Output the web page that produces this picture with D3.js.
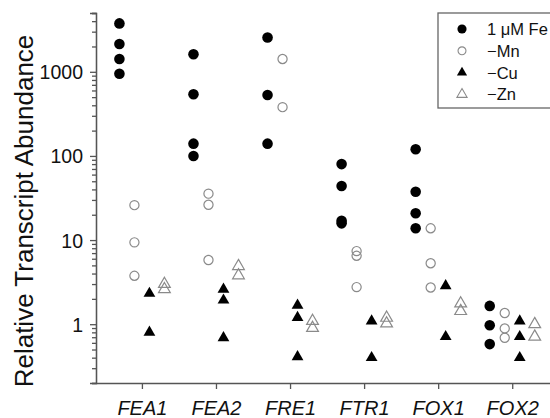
<!DOCTYPE html>
<html>
<head>
<meta charset="utf-8">
<script src="https://cdn.jsdelivr.net/npm/d3@7"></script>
<style>
  body { margin: 0; background: #fff; }
  svg { font-family: Arial, "Liberation Sans", sans-serif; }
</style>
</head>
<body>
<svg id="svg1" width="550" height="418"></svg>
<script>
var genes = ["FEA1", "FEA2", "FRE1", "FTR1", "FOX1", "FOX2"];
var seriesNames = ["1 \u03bcM Fe", "\u2212Mn", "\u2212Cu", "\u2212Zn"];
var majorTicks = [1, 10, 100, 1000];

// one array of replicate values per gene
var feValues = [
  [3760, 2140, 1420, 950],
  [1620, 540, 140, 100],
  [2560, 530, 140],
  [80, 44, 17, 15.8],
  [120, 37.6, 20.8, 13.8],
  [1.65, 0.97, 0.58]
];
var mnValues = [
  [26, 9.4, 3.76],
  [35.6, 26.3, 5.8],
  [1420, 380],
  [7.4, 6.5, 2.76],
  [13.8, 5.3, 2.73],
  [1.36, 0.89, 0.69]
];
var cuValues = [
  [2.32, 0.8],
  [2.6, 1.93, 0.69],
  [1.68, 1.2, 0.41],
  [1.09, 0.4],
  [2.86, 0.71],
  [1.09, 0.71, 0.4]
];
var znValues = [
  [3.0, 2.6],
  [4.9, 3.8],
  [1.09, 0.9],
  [1.19, 1.02],
  [1.76, 1.43],
  [1.0, 0.71]
];

var translate = function(x, y) {
  return "translate(" + String(x) + ", " + String(y) + ")";
};

var svg = d3.select("svg#svg1");

var xScale = d3.scaleLinear()
  .domain([-0.62, 5.51])
  .range([96, 550]);

var yScale = d3.scaleLog()
  .domain([0.2, 5000])
  .range([383, 13]);

var seriesOffset = d3.scalePoint()
  .domain(seriesNames)
  .range([-22.5, 22.5]);

var styles = {};
styles[seriesNames[0]] = { type: d3.symbolCircle, size: 88, fill: "#000", stroke: "none" };
styles[seriesNames[1]] = { type: d3.symbolCircle, size: 66, fill: "none", stroke: "#8a8a8a" };
styles[seriesNames[2]] = { type: d3.symbolTriangle, size: 60, fill: "#000", stroke: "none" };
styles[seriesNames[3]] = { type: d3.symbolTriangle, size: 60, fill: "none", stroke: "#8a8a8a" };

var allSeries = [feValues, mnValues, cuValues, znValues];
var points = [];
allSeries.forEach(function(series, s) {
  series.forEach(function(vals, g) {
    vals.forEach(function(v) {
      points.push({ series: seriesNames[s], gene: g, value: v });
    });
  });
});

/* axes */
var yMinor = d3.axisLeft(yScale)
  .tickValues(yScale.ticks().filter(function(t) { return majorTicks.indexOf(t) < 0; }))
  .tickSize(4)
  .tickFormat("");

var yMajor = d3.axisLeft(yScale)
  .tickValues(majorTicks)
  .tickSize(6)
  .tickPadding(7)
  .tickFormat(d3.format("d"));

var yAxisMinor = svg.append("g").attr("transform", translate(96, 0)).call(yMinor);
var yAxis = svg.append("g").attr("transform", translate(96, 0)).call(yMajor);
yAxis.selectAll("text").attr("font-size", 19.5).attr("fill", "#111").attr("dy", "0.36em");

var xAxisGen = d3.axisBottom(xScale)
  .tickValues(d3.range(genes.length))
  .tickFormat(function(i) { return genes[i]; })
  .tickSize(6)
  .tickPadding(12)
  .tickSizeOuter(0);

var xAxis = svg.append("g").attr("transform", translate(0, 383)).call(xAxisGen);
xAxis.selectAll("text")
  .attr("font-size", 20)
  .attr("font-style", "italic")
  .attr("fill", "#111");

svg.selectAll(".domain, .tick line")
  .attr("stroke", "#555")
  .attr("stroke-width", 1.3);

svg.append("text")
  .attr("transform", translate(33, 211) + " rotate(-90)")
  .attr("text-anchor", "middle")
  .attr("font-size", 26)
  .attr("fill", "#111")
  .text("Relative Transcript Abundance");

/* points */
var symbol = d3.symbol();
svg.append("g").selectAll("path")
  .data(points)
  .enter()
  .append("path")
  .attr("transform", function(d) {
    return translate(xScale(d.gene) + seriesOffset(d.series), yScale(d.value));
  })
  .attr("d", function(d) { return symbol.type(styles[d.series].type).size(styles[d.series].size)(); })
  .attr("fill", function(d) { return styles[d.series].fill; })
  .attr("stroke", function(d) { return styles[d.series].stroke; })
  .attr("stroke-width", 1.2);

/* legend */
var legend = svg.append("g").attr("transform", translate(438, 13));
legend.append("rect")
  .attr("width", 130)
  .attr("height", 95)
  .attr("fill", "#fff")
  .attr("stroke", "#666")
  .attr("stroke-width", 1.3);

var rows = legend.selectAll("g.row")
  .data(seriesNames)
  .enter()
  .append("g")
  .attr("class", "row")
  .attr("transform", function(d, i) { return translate(24, 16 + i * 21.8); });

rows.append("path")
  .attr("d", function(d) { return symbol.type(styles[d].type).size(styles[d].size * 0.75)(); })
  .attr("fill", function(d) { return styles[d].fill; })
  .attr("stroke", function(d) { return styles[d].stroke; })
  .attr("stroke-width", 1.1);

rows.append("text")
  .attr("x", 25)
  .attr("dy", "0.36em")
  .attr("font-size", 16.5)
  .attr("fill", "#111")
  .text(function(d) { return d; });
</script>
</body>
</html>
